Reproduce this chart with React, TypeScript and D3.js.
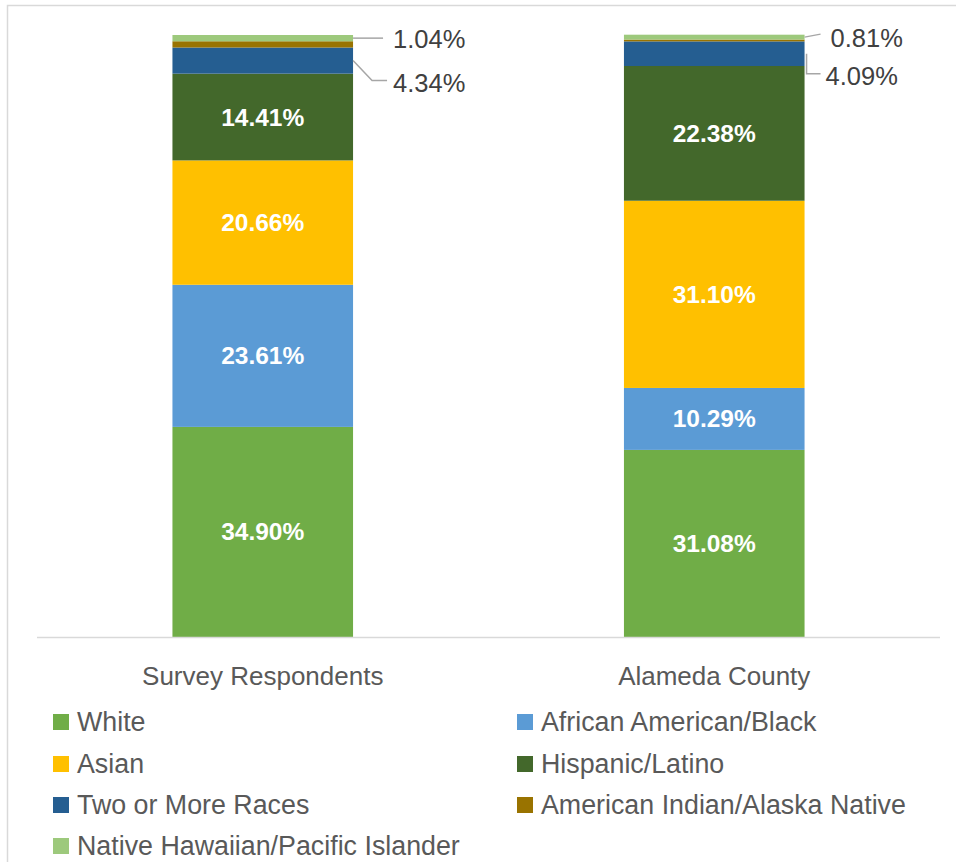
import React from "react";
import * as d3 from "d3";

const categories = ["Survey Respondents", "Alameda County"];
const seriesNames = [
  "White",
  "African American/Black",
  "Asian",
  "Hispanic/Latino",
  "Two or More Races",
  "American Indian/Alaska Native",
  "Native Hawaiian/Pacific Islander",
];
const white = [34.9, 31.08];
const black = [23.61, 10.29];
const asian = [20.66, 31.1];
const hispanic = [14.41, 22.38];
const twoOrMore = [4.34, 4.09];
const amIndian = [1.04, 0.3];
const nativeHawaiian = [1.04, 0.81];
const seriesValues = [white, black, asian, hispanic, twoOrMore, amIndian, nativeHawaiian];
const colors = ["#70AD47", "#5B9BD5", "#FFC000", "#43682B", "#255E91", "#997300", "#9DC97C"];

const W = 956;
const H = 862;
const FONT = "'Liberation Sans', Arial, sans-serif";

export default function App() {
  const x = d3
    .scaleBand<string>()
    .domain(categories)
    .range([37, 940])
    .paddingInner(0.6)
    .paddingOuter(0.3);
  const y = d3.scaleLinear().domain([0, 100]).range([637, 35]);

  const rows = categories.map((c, i) => {
    const r: any = { cat: c };
    seriesNames.forEach((s, k) => (r[s] = seriesValues[k][i]));
    return r;
  });
  const stacked = d3.stack<any>().keys(seriesNames)(rows);

  const fmt = (v: number) => v.toFixed(2) + "%";
  const bw = x.bandwidth();

  const ext = [
    { s: 6, c: 0, pts: [[0, 0], [30, 0]], tx: 40, ty: 1 },
    { s: 4, c: 0, pts: [[0, 0], [19, 20], [34, 20]], tx: 40, ty: 22 },
    { s: 6, c: 1, pts: [[0, 0], [16, -3]], tx: 26, ty: 0.5 },
    { s: 4, c: 1, pts: [[2, 0], [2, 20], [16, 20]], tx: 21, ty: 22 },
  ];

  return (
    <svg width={W} height={H} style={{ display: "block", position: "absolute", left: 0, top: 0 }}>
      <rect x={7.5} y={5.5} width={W + 10} height={H + 10} fill="#fff" stroke="#d9d9d9" strokeWidth={1.5} />
      {stacked.map((layer, k) => (
        <g key={k}>
          {layer.map((d, i) => (
            <rect
              key={i}
              x={x(categories[i])!}
              y={y(d[1])}
              width={bw}
              height={y(d[0]) - y(d[1])}
              fill={colors[k]}
            />
          ))}
        </g>
      ))}
      <line x1={37} x2={940} y1={637.5} y2={637.5} stroke="#d9d9d9" strokeWidth={1.5} />
      {stacked.slice(0, 4).map((layer, k) =>
        layer.map((d, i) => (
          <text
            key={k + "-" + i}
            x={x(categories[i])! + bw / 2}
            y={(y(d[0]) + y(d[1])) / 2}
            textAnchor="middle"
            dominantBaseline="central"
            fill="#fff"
            fontFamily={FONT}
            fontWeight="bold"
            fontSize={24.5}
          >
            {fmt(seriesValues[k][i])}
          </text>
        ))
      )}
      {ext.map((e, j) => {
        const d = stacked[e.s][e.c];
        const x0 = x(categories[e.c])! + bw;
        const y0 = (y(d[0]) + y(d[1])) / 2;
        const line = d3.line()(e.pts.map(([a, b]) => [x0 + a, y0 + b] as [number, number]));
        return (
          <g key={j}>
            <path d={line!} fill="none" stroke="#a6a6a6" strokeWidth={1.5} />
            <text
              x={x0 + e.tx}
              y={y0 + e.ty}
              dominantBaseline="central"
              fill="#404040"
              fontFamily={FONT}
              fontSize={25.5}
            >
              {fmt(seriesValues[e.s][e.c])}
            </text>
          </g>
        );
      })}
      {categories.map((c) => (
        <text
          key={c}
          x={x(c)! + bw / 2}
          y={676}
          textAnchor="middle"
          dominantBaseline="central"
          fill="#595959"
          fontFamily={FONT}
          fontSize={26}
        >
          {c}
        </text>
      ))}
      {seriesNames.map((s, k) => {
        const col = k % 2;
        const row = Math.floor(k / 2);
        const lx = col === 0 ? 53 : 517;
        const ly = [722, 764, 805, 846][row];
        return (
          <g key={s}>
            <rect x={lx} y={ly - 8} width={16} height={16} fill={colors[k]} />
            <text
              x={lx + 24}
              y={ly}
              dominantBaseline="central"
              fill="#595959"
              fontFamily={FONT}
              fontSize={26.8}
            >
              {s}
            </text>
          </g>
        );
      })}
    </svg>
  );
}
